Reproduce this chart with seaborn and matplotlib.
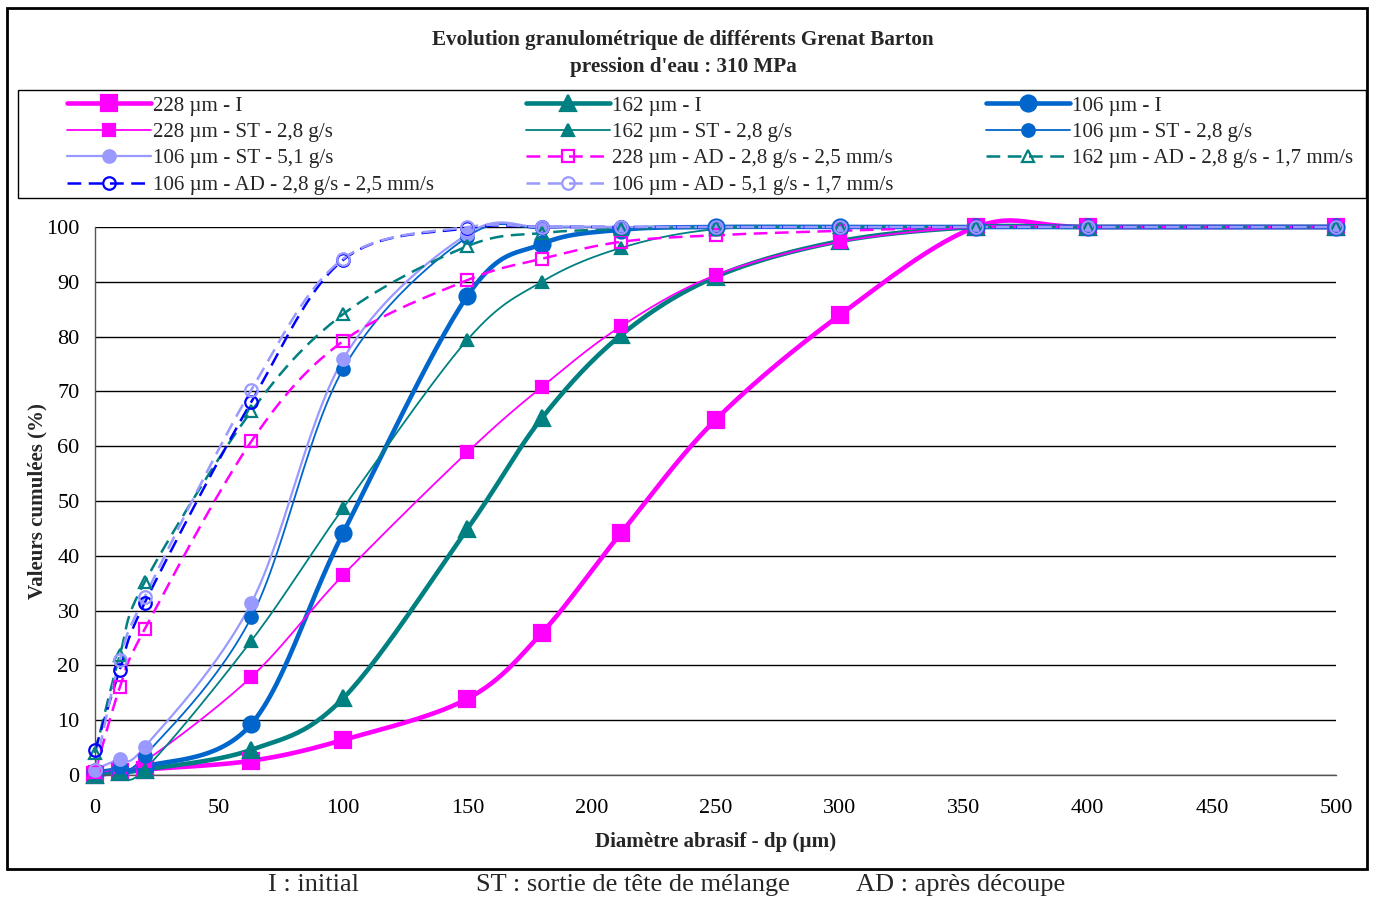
import numpy as np
import pandas as pd
import matplotlib
matplotlib.use("Agg")
import matplotlib.pyplot as plt
from matplotlib.lines import Line2D
from matplotlib.patches import Rectangle
import seaborn as sns

sns.set_theme(style="white")
plt.rcParams['font.family'] = ['Liberation Serif', 'DejaVu Serif']

# ---------------- data ----------------
diametres = [0, 10, 20, 63, 100, 150, 180, 212, 250, 300, 355, 400, 500]

g228_I = [0, 0.5, 1.0, 2.6, 6.4, 13.9, 25.9, 44.2, 64.8, 83.9, 100, 100, 100]
g162_I = [0, 0.5, 1.0, 4.6, 14.0, 44.9, 65.1, 80.3, 90.9, 97.4, 100, 100, 100]
g106_I = [0.5, 1.0, 1.5, 9.3, 44.2, 87.4, 96.9, 99.5, 100, 100, 100, 100, 100]
g228_ST28 = [0, 1.5, 2.5, 17.9, 36.5, 58.9, 70.8, 81.9, 91.2, 97.3, 100, 100, 100]
g162_ST28 = [0, 0.5, 1.0, 24.5, 48.7, 79.4, 90.0, 96.2, 99.6, 100, 100, 100, 100]
g106_ST28 = [0.5, 1.5, 3.5, 28.8, 74.1, 98.2, 99.8, 100, 100, 100, 100, 100, 100]
g106_ST51 = [1.0, 3.0, 5.1, 31.4, 75.9, 98.7, 100, 100, 100, 100, 100, 100, 100]
g228_AD = [0.5, 16.0, 26.6, 60.9, 79.2, 90.3, 94.2, 97.3, 98.5, 99.3, 100, 100, 100]
g162_AD = [4.0, 21.9, 35.2, 66.4, 84.1, 96.5, 98.9, 99.6, 100, 100, 100, 100, 100]
g106_AD28 = [4.5, 19.2, 31.4, 68.1, 94.0, 99.8, 100, 100, 100, 100, 100, 100, 100]
g106_AD51 = [1.0, 21.0, 32.5, 70.3, 94.2, 100, 100, 100, 100, 100, 100, 100, 100]

labels = ["228 µm - I", "162 µm - I", "106 µm - I",
          "228 µm - ST - 2,8 g/s", "162 µm - ST - 2,8 g/s", "106 µm - ST - 2,8 g/s",
          "106 µm - ST - 5,1 g/s", "228 µm - AD - 2,8 g/s - 2,5 mm/s",
          "162 µm - AD - 2,8 g/s - 1,7 mm/s", "106 µm - AD - 2,8 g/s - 2,5 mm/s",
          "106 µm - AD - 5,1 g/s - 1,7 mm/s"]
series = [g228_I, g162_I, g106_I, g228_ST28, g162_ST28, g106_ST28,
          g106_ST51, g228_AD, g162_AD, g106_AD28, g106_AD51]

MAG, TEAL, BLUE, LAV, DBLUE = "#FF00FF", "#008080", "#0066CC", "#9999FF", "#0000FF"
styles = [
    dict(color=MAG, lw=3.3, marker="s", ms=11.5, fill=True, dash=None),
    dict(color=TEAL, lw=3.3, marker="^", ms=11.5, fill=True, dash=None),
    dict(color=BLUE, lw=3.3, marker="o", ms=11.5, fill=True, dash=None),
    dict(color=MAG, lw=1.3, marker="s", ms=9, fill=True, dash=None),
    dict(color=TEAL, lw=1.3, marker="^", ms=9, fill=True, dash=None),
    dict(color=BLUE, lw=1.3, marker="o", ms=9, fill=True, dash=None),
    dict(color=LAV, lw=1.6, marker="o", ms=9, fill=True, dash=None),
    dict(color=MAG, lw=1.8, marker="s", ms=9, fill=False, dash=(5.5, 3)),
    dict(color=TEAL, lw=1.8, marker="^", ms=9, fill=False, dash=(5.5, 3)),
    dict(color=DBLUE, lw=1.8, marker="o", ms=9, fill=False, dash=(5.5, 3)),
    dict(color=LAV, lw=1.8, marker="o", ms=9, fill=False, dash=(5.5, 3)),
]


def smooth(xs, ys, n=30):
    """Excel-like Bezier smoothing, used only to draw the connecting line."""
    P = np.column_stack([xs, ys]).astype(float)
    out = []
    m = len(P)
    for i in range(m - 1):
        p0 = P[i - 1] if i > 0 else P[i]
        p1, p2 = P[i], P[i + 1]
        p3 = P[i + 2] if i + 2 < m else P[i + 1]
        c1 = p1 + (p2 - p0) / 6.0
        c2 = p2 - (p3 - p1) / 6.0
        t = np.linspace(0, 1, n)[:, None]
        seg = ((1 - t) ** 3) * p1 + 3 * ((1 - t) ** 2) * t * c1 + 3 * (1 - t) * t ** 2 * c2 + t ** 3 * p2
        out.append(seg if i == 0 else seg[1:])
    out = np.vstack(out)
    return out[:, 0], out[:, 1]


W, H = 1375, 901
FS = 15.1
LFS = 15.1
fig = plt.figure(figsize=(W / 100, H / 100), dpi=100)
fig.patch.set_facecolor("white")
ax = fig.add_axes([95 / W, 1 - 775 / H, (1336 - 95) / W, (775 - 227) / H])

for ys, lab, st in zip(series, labels, styles):
    sx, sy = smooth(diametres, ys)
    df = pd.DataFrame({"x": sx, "y": sy})
    sns.lineplot(data=df, x="x", y="y", ax=ax, color=st["color"], lw=st["lw"],
                 sort=False, estimator=None, legend=False)
    line = ax.lines[-1]
    if st["dash"] is not None:
        line.set_dashes(st["dash"])
    line.set_clip_on(False)
    ax.plot(diametres, ys, linestyle="none", marker=st["marker"], ms=st["ms"],
            markerfacecolor=st["color"] if st["fill"] else "none",
            markeredgecolor=st["color"], markeredgewidth=1.6, clip_on=False, zorder=3)

ax.set_xlim(0, 500)
ax.set_ylim(0, 100)
ax.set_xticks(np.arange(0, 501, 50))
ax.set_yticks(np.arange(0, 101, 10))
ax.yaxis.grid(True, color="black", lw=1.0)
ax.xaxis.grid(False)
for s in ["top", "right"]:
    ax.spines[s].set_visible(False)
for s in ["left", "bottom"]:
    ax.spines[s].set_color("#555555")
    ax.spines[s].set_linewidth(1.0)
ax.tick_params(axis="both", direction="out", length=5, width=1, color="#555555",
               labelsize=16, labelcolor="black")
ax.tick_params(axis="x", pad=12)
ax.tick_params(axis="y", pad=6)
ax.set_xlabel("Diamètre abrasif - dp (µm)", fontsize=FS, fontweight="bold", labelpad=10)
ax.set_ylabel("Valeurs cumulées (%)", fontsize=FS, fontweight="bold", labelpad=-1)

# outer chart border
fig.patches.append(Rectangle((7 / W, 1 - 869 / H), (1367 - 7) / W, (869 - 8) / H,
                             transform=fig.transFigure, fill=False, lw=2, ec="black"))
# legend frame
fig.patches.append(Rectangle((18 / W, 1 - 198 / H), (1366 - 18) / W, (198 - 90) / H,
                             transform=fig.transFigure, fill=False, lw=1.0, ec="black"))

fig.text(683 / W, 1 - 40 / H, "Evolution granulométrique de différents Grenat Barton",
         ha="center", va="center", fontsize=15.2, fontweight="bold")
fig.text(683 / W, 1 - 67 / H, "pression d'eau : 310 MPa",
         ha="center", va="center", fontsize=15.2, fontweight="bold")

# legend (column-major order to reproduce the row layout)
order = [0, 3, 6, 9, 1, 4, 7, 10, 2, 5, 8]
handles = []
for i in order:
    st = styles[i]
    h = Line2D([0], [0], color=st["color"], lw=st["lw"], marker=st["marker"], ms=st["ms"],
               markerfacecolor=st["color"] if st["fill"] else "none",
               markeredgecolor=st["color"], markeredgewidth=1.6)
    if st["dash"] is not None:
        h.set_dashes(st["dash"])
    handles.append(h)
leg = fig.legend(handles, [labels[i] for i in order], ncol=3, loc="upper left",
                 bbox_to_anchor=(67 / W, 1 - 96 / H),
                 fontsize=LFS, frameon=False, handlelength=4.0, handletextpad=0.1,
                 labelspacing=0.32, borderpad=0.0, borderaxespad=0, columnspacing=4.4)

fig.text(268 / W, 1 - 885 / H, "I : initial", ha="left", va="center", fontsize=19)
fig.text(476 / W, 1 - 885 / H, "ST : sortie de tête de mélange", ha="left", va="center", fontsize=19)
fig.text(856 / W, 1 - 885 / H, "AD : après découpe", ha="left", va="center", fontsize=19)

fig.savefig("out.png", dpi=100, facecolor="white")
